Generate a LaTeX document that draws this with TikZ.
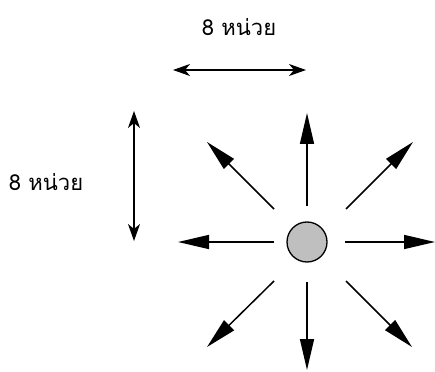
\documentclass[tikz,border=0pt]{standalone}
\usepackage{fontspec}
\newfontfamily\thaifont[Script=Thai]{Loma}
\usetikzlibrary{arrows.meta}
\begin{document}
\begin{tikzpicture}[x=1pt,y=-1pt,
  ray/.style={line width=1.5pt,-{Triangle[length=31pt,width=14pt]}},
  dim/.style={line width=1.2pt,{Stealth[length=17pt,width=12pt,inset=5pt]}-{Stealth[length=17pt,width=12pt,inset=5pt]}},
  lbl/.style={font=\thaifont\fontsize{22}{26}\selectfont,inner sep=0pt}]
\useasboundingbox (0,0) rectangle (435,371);
% centre particle
\node[circle,draw,line width=1.3pt,fill=black!25,minimum size=40pt,inner sep=0pt] (c) at (307,242) {};
% ray start and end points
\coordinate (sN) at (307,206); \coordinate (tN) at (307,113);
\coordinate (sS) at (307,282); \coordinate (tS) at (307,370);
\coordinate (sW) at (274,242); \coordinate (tW) at (178,242);
\coordinate (sE) at (345,242); \coordinate (tE) at (435,242);
\coordinate (sNW) at (274,209); \coordinate (tNW) at (207,142);
\coordinate (sNE) at (346,209); \coordinate (tNE) at (413,142);
\coordinate (sSW) at (274,281); \coordinate (tSW) at (207,347);
\coordinate (sSE) at (346,281); \coordinate (tSE) at (412,347);
\foreach \d in {N,S,W,E,NW,NE,SW,SE}{\draw[ray] (s\d) -- (t\d);}
% dimension arrows
\coordinate (hL) at (173,70); \coordinate (hR) at (306,70);
\coordinate (vT) at (134,111); \coordinate (vB) at (134,241);
\draw[dim] (hL) -- (hR);
\draw[dim] (vT) -- (vB);
\node[lbl] (lh) at (239,27) {8 หน่วย};
\node[lbl] (lv) at (46,182) {8 หน่วย};
\end{tikzpicture}
\end{document}
